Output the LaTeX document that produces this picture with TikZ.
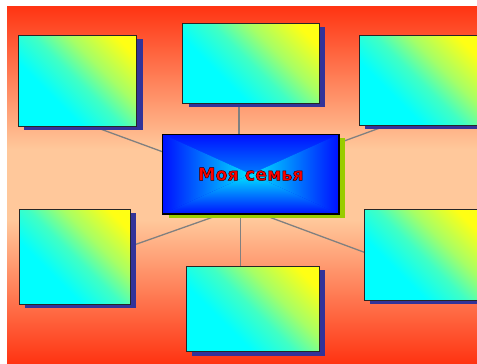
\documentclass[tikz,border=0pt]{standalone}
\usepackage{fontspec}
\setmainfont{DejaVu Sans}
\usetikzlibrary{shadows,calc}
\definecolor{bgred}{RGB}{255,52,18}
\definecolor{peach}{RGB}{255,200,155}
\definecolor{shblue}{RGB}{51,51,153}
\definecolor{shgreen}{RGB}{153,204,0}
\definecolor{cbox}{RGB}{0,255,255}
\definecolor{ybox}{RGB}{255,255,20}
\definecolor{deepblue}{RGB}{0,16,255}
\definecolor{lightc}{RGB}{0,230,255}
\definecolor{linegray}{RGB}{128,128,128}
\pgfdeclareverticalshading{boxshade}{100bp}{color(0bp)=(cbox); color(36bp)=(cbox); color(50bp)=(cbox!75!ybox); color(62bp)=(cbox!35!ybox); color(78bp)=(ybox); color(100bp)=(ybox)}
\pgfdeclareverticalshading{bgshade}{100bp}{color(0bp)=(bgred); color(25bp)=(bgred); color(45bp)=(peach); color(55bp)=(peach); color(75bp)=(bgred); color(100bp)=(bgred)}
\pgfdeclarelayer{bg}
\pgfsetlayers{bg,main}
\newcommand{\outlinedtext}[1]{\special{pdf:literal direct 2 Tr 0.45 w 0.15 0 0 RG}#1\special{pdf:literal direct 0 Tr}}
\tikzset{
  bx/.style={draw=black!85, line width=0.8bp, shading=boxshade, shading angle=-45,
    inner sep=0pt, outer sep=0pt, anchor=north west,
    general shadow={fill=shblue, shadow xshift=6bp, shadow yshift=-4bp}},
  cbx/.style={draw=black, line width=1.2bp, fill=deepblue, inner sep=0pt, outer sep=0pt,
    anchor=north west,
    general shadow={fill=shgreen, shadow xshift=6bp, shadow yshift=-3.5bp},
    path picture={
      \shade[top color=deepblue, bottom color=lightc] (path picture bounding box.north west) -- (path picture bounding box.north east) -- (path picture bounding box.center) -- cycle;
      \shade[top color=lightc, bottom color=deepblue] (path picture bounding box.south west) -- (path picture bounding box.south east) -- (path picture bounding box.center) -- cycle;
      \shade[left color=deepblue, right color=lightc] (path picture bounding box.north west) -- (path picture bounding box.south west) -- (path picture bounding box.center) -- cycle;
      \shade[left color=lightc, right color=deepblue] (path picture bounding box.north east) -- (path picture bounding box.south east) -- (path picture bounding box.center) -- cycle;
    }},
  conn/.style={draw=linegray, line width=1.3bp},
  ttl/.style={font=\bfseries\fontsize{17.5bp}{20bp}\selectfont, inner sep=0pt}
}
\begin{document}
\begin{tikzpicture}[x=1bp, y=-1bp]
\useasboundingbox (0,0) rectangle (477,363);
% boxes
\node[bx, minimum width=118.4bp, minimum height=91bp] (tl) at (18.3,35) {};
\node[bx, minimum width=136.6bp, minimum height=80bp] (tc) at (182.7,23.3) {};
\node[bx, minimum width=119bp, minimum height=90bp] (tr) at (359.3,35) {};
\node[bx, minimum width=110.7bp, minimum height=95bp] (bl) at (19.3,209) {};
\node[bx, minimum width=114bp, minimum height=90.7bp] (br) at (364.3,209.3) {};
\node[bx, minimum width=133.3bp, minimum height=85.7bp] (bc) at (186,266) {};
\node[cbx, minimum width=176.3bp, minimum height=79.7bp] (c) at (162.7,134.3) {};
\node[ttl, text=red] (t) at (c.center) {\outlinedtext{Моя семья}};
\begin{pgfonlayer}{bg}
\fill[white] (0,0) rectangle (477,363);
\shade[shading=bgshade] (7,6) rectangle (477,363);
\draw[conn] ($(tl.south west)+(74,0)$) -- ($(c.north west)+(4,19)$);
\draw[conn] ($(tc.south west)+(56.3,0)$) -- ($(c.north west)+(76.3,0)$);
\draw[conn] ($(c.north east)+(-4,10)$) -- ($(tr.south west)+(26,1)$);
\draw[conn] ($(bl.north east)+(0,37.4)$) -- ($(c.south west)+(59,0)$);
\draw[conn] ($(c.south west)+(78,0)$) -- ($(bc.north west)+(54.7,0)$);
\draw[conn] ($(c.south west)+(98.3,0)$) -- ($(br.north west)+(0,43)$);
\end{pgfonlayer}
\end{tikzpicture}
\end{document}
